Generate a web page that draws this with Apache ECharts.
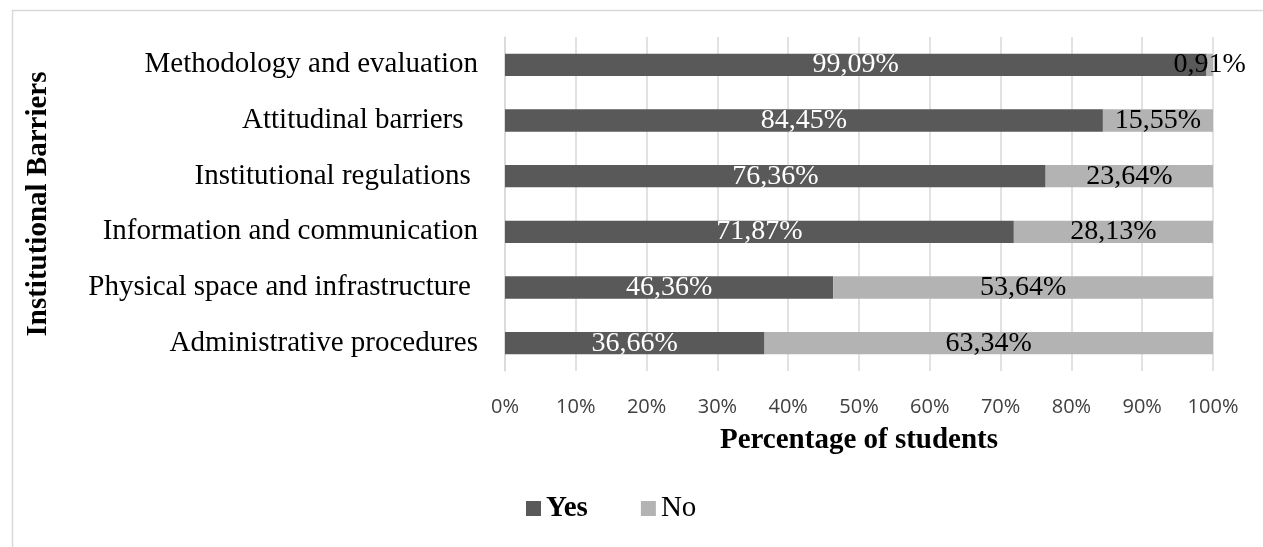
<!DOCTYPE html>
<html>
<head>
<meta charset="utf-8">
<script src="https://cdn.jsdelivr.net/npm/echarts@6/dist/echarts.min.js"></script>
<style>
  html, body { margin: 0; padding: 0; background: #fff; }
  #chart { width: 1263px; height: 547px; }
</style>
</head>
<body>
<div id="chart"></div>
<script>
// Barrier categories, top to bottom
const categories = [
  'Methodology and evaluation',
  'Attitudinal barriers  ',
  'Institutional regulations ',
  'Information and communication',
  'Physical space and infrastructure ',
  'Administrative procedures'
];
// Share of students answering each way (%)
const yesValues = [99.09, 84.45, 76.36, 71.87, 46.36, 36.66];
const noValues = [0.91, 15.55, 23.64, 28.13, 53.64, 63.34];
const xTicks = [0, 10, 20, 30, 40, 50, 60, 70, 80, 90, 100];

const serif = '"Liberation Serif", "Times New Roman", serif';
const fmt = p => p.value.toFixed(2).replace('.', ',') + '%';

const chart = echarts.init(document.getElementById('chart'));
chart.setOption({
  animation: false,
  backgroundColor: '#fff',
  graphic: [{
    type: 'rect',
    left: 10, top: 8,
    shape: { width: 1300, height: 600 },
    style: { fill: 'none', stroke: '#d9d9d9', lineWidth: 1.5 },
    silent: true, z: -10
  }],
  grid: { left: 505, right: 50, top: 37, height: 334, containLabel: false },
  legend: {
    data: ['Yes', 'No'],
    left: 521, top: 489,
    icon: 'rect', itemWidth: 15, itemHeight: 15, itemGap: 53,
    formatter: n => n === 'Yes' ? '{b|Yes}' : '{r|No}',
    textStyle: {
      color: '#000',
      rich: {
        b: { fontFamily: serif, fontSize: 29, fontWeight: 'bold', color: '#000' },
        r: { fontFamily: serif, fontSize: 29, color: '#000' }
      }
    }
  },
  xAxis: {
    type: 'value', min: 0, max: 100, interval: 10,
    name: 'Percentage of students',
    nameLocation: 'middle', nameGap: 55,
    nameTextStyle: { fontFamily: serif, fontSize: 29, fontWeight: 'bold', color: '#000' },
    axisLine: { show: false }, axisTick: { show: false },
    axisLabel: {
      margin: 26, fontFamily: '"Open Sans", "Noto Sans", sans-serif', fontSize: 20, color: '#404040',
      formatter: v => xTicks.includes(v) ? v + '%' : ''
    },
    splitLine: { show: true, lineStyle: { color: '#d9d9d9', width: 1.5 } }
  },
  yAxis: {
    type: 'category', inverse: true, data: categories,
    name: 'Institutional Barriers',
    nameLocation: 'middle', nameRotate: 90, nameGap: 452,
    nameTextStyle: { fontFamily: serif, fontSize: 29, fontWeight: 'bold', color: '#000' },
    axisLine: { show: true, lineStyle: { color: '#d9d9d9', width: 1.5 } },
    axisTick: { show: false },
    axisLabel: { margin: 27, fontFamily: serif, fontSize: 29, color: '#000' }
  },
  series: [
    {
      name: 'Yes', type: 'bar', stack: 'total', data: yesValues,
      barCategoryGap: '60%',
      itemStyle: { color: '#595959' },
      label: { show: true, position: 'inside', formatter: fmt, fontFamily: serif, fontSize: 28, color: '#fff' }
    },
    {
      name: 'No', type: 'bar', stack: 'total', data: noValues,
      itemStyle: { color: '#b3b3b3' },
      label: { show: true, position: 'inside', formatter: fmt, fontFamily: serif, fontSize: 28, color: '#000' }
    }
  ]
});
</script>
</body>
</html>
